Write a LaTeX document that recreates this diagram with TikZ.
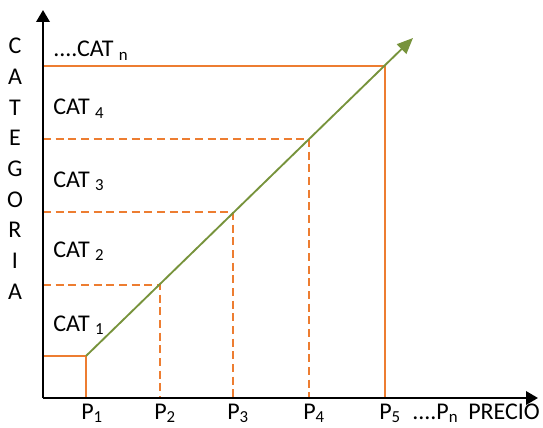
\documentclass[tikz,border=0pt]{standalone}
\usepackage{fontspec}
\setmainfont{Carlito}
\usetikzlibrary{arrows.meta,positioning,calc}
\definecolor{catline}{HTML}{ED7D31}
\definecolor{trend}{HTML}{77933C}

\begin{document}
\begin{tikzpicture}[x=0.75pt,y=-0.75pt,
          axis/.style={-{Triangle[length=9pt,width=10pt]}, line width=1.8pt},
          lim/.style={draw=catline, line width=1.4pt},
          limdash/.style={lim, dash pattern=on 6pt off 3.5pt},
          trendline/.style={draw=trend, line width=1.4pt, -{Triangle[length=12pt,width=10pt]}},
          lbl/.style={font=\fontsize{18}{21}\selectfont, inner sep=0pt}]
        \useasboundingbox (0,0) rectangle (543,428);
        % axes
        \coordinate (o) at (43,398);
        \coordinate (ytop) at (43,10);
        \coordinate (xend) at (538,398);
        % category limits on the price line
        \coordinate (q1) at (86,356);
        \coordinate (q2) at (160,285);
        \coordinate (q3) at (233,212);
        \coordinate (q4) at (309,139);
        \coordinate (q5) at (385,66);
        \coordinate (tip) at (413,38);
        \coordinate (c1) at (43,356);
        \coordinate (c2) at (43,285);
        \coordinate (c3) at (43,212);
        \coordinate (c4) at (43,139);
        \coordinate (c5) at (43,66);
        \coordinate (b1) at (86,398);
        \coordinate (b2) at (160,398);
        \coordinate (b3) at (233,398);
        \coordinate (b4) at (309,398);
        \coordinate (b5) at (385,398);
        \draw[lim] (c1) -- (q1) -- (b1);
        \draw[limdash] (c2) -- (q2) -- (b2);
        \draw[limdash] (c3) -- (q3) -- (b3);
        \draw[limdash] (c4) -- (q4) -- (b4);
        \draw[lim] (c5) -- (q5) -- (b5);
        \draw[trendline] (q1) -- (tip);
        \draw[axis] (o) -- (ytop);
        \draw[axis] (o) -- (xend);
        % labels
        \node[lbl, anchor=base west] (catn) at (53,57) {....CAT \textsubscript{n}};
        \node[lbl, anchor=base west] (cat4) at (53,115) {CAT \textsubscript{4}};
        \node[lbl, anchor=base west] (cat3) at (53,187) {CAT \textsubscript{3}};
        \node[lbl, anchor=base west] (cat2) at (53,257) {CAT \textsubscript{2}};
        \node[lbl, anchor=base west] (cat1) at (53,331) {CAT \textsubscript{1}};
        \node[lbl, anchor=base west] (p1) at (81,419) {P\textsubscript{1}};
        \node[lbl, anchor=base west] (p2) at (154,419) {P\textsubscript{2}};
        \node[lbl, anchor=base west] (p3) at (227,419) {P\textsubscript{3}};
        \node[lbl, anchor=base west] (p4) at (303,419) {P\textsubscript{4}};
        \node[lbl, anchor=base west] (p5) at (379,419) {P\textsubscript{5}};
        \node[lbl, anchor=base west] (pn) at (412,419) {....P\textsubscript{n}};
        \node[lbl, anchor=base west] (precio) at (468,419) {PRECIO};
        \node[lbl, align=center, anchor=north, font=\fontsize{18}{23}\selectfont] (cat) at (15,38) {C\\A\\T\\E\\G\\O\\R\\I\\A};
      \end{tikzpicture}
\end{document}
